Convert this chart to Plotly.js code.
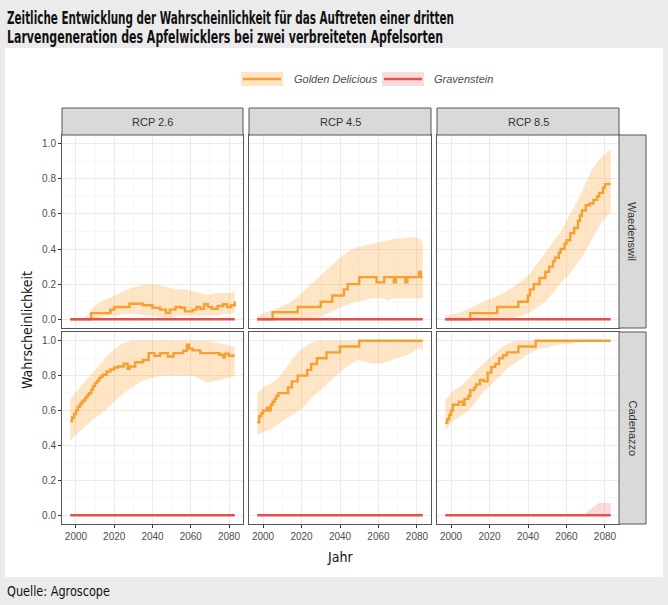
<!DOCTYPE html>
<html><head><meta charset="utf-8">
<script src="https://cdn.plot.ly/plotly-3.0.1.min.js"></script>
<style>html,body{margin:0;padding:0;background:#ebebeb}#chart{width:668px;height:605px}</style>
</head><body><div id="chart"></div>
<script>
// ---------------- DATA ----------------
const panelTitles = ["RCP 2.6", "RCP 4.5", "RCP 8.5"];
const siteNames = ["Waedenswil", "Cadenazzo"];
const seriesNames = ["Golden Delicious", "Gravenstein"];
const xTicks = [2000, 2020, 2040, 2060, 2080];
const yTicks = [0, 0.2, 0.4, 0.6, 0.8, 1.0];

const ribbonYears = [1997,2001,2005,2009,2013,2017,2021,2025,2029,2033,2037,2041,2045,2049,2053,2057,2061,2065,2069,2073,2077,2081,2083];

// Golden Delicious – mean (step breakpoints)
const w26Years = [1997,2008,2018,2020,2028,2035,2040,2044,2047,2049,2052,2055,2057,2061,2063,2065,2067,2069,2071,2074,2077,2079,2081,2083];
const w26Mean  = [0,0.035,0.055,0.07,0.088,0.08,0.065,0.055,0.035,0.055,0.07,0.065,0.045,0.055,0.07,0.06,0.085,0.07,0.06,0.075,0.085,0.07,0.08,0.1];
const w45Years = [1997,2005,2018,2030,2036,2042,2044,2050,2059,2063,2068,2069,2074,2075,2081,2082,2083];
const w45Mean  = [0,0.04,0.07,0.1,0.135,0.17,0.2,0.24,0.21,0.24,0.21,0.24,0.21,0.24,0.27,0.24,0.24];
const w85Years = [1997,2010,2024,2035,2040,2041,2043,2046,2049,2051,2053,2054,2056,2057,2059,2060,2062,2064,2066,2067,2068,2070,2072,2074,2076,2077,2079,2080,2083];
const w85Mean  = [0,0.035,0.07,0.1,0.135,0.17,0.2,0.235,0.27,0.3,0.33,0.35,0.38,0.4,0.43,0.45,0.49,0.52,0.56,0.59,0.62,0.65,0.66,0.68,0.7,0.72,0.75,0.77,0.77];
const c26Years = [1997,1998,1999,2000,2001,2002,2003,2004,2005,2006,2007,2008,2009,2010,2011,2012,2013,2014,2016,2018,2020,2022,2025,2027,2028,2031,2035,2038,2041,2044,2048,2051,2056,2058,2059,2061,2065,2075,2077,2078,2080,2083];
const c26Mean  = [0.54,0.56,0.58,0.6,0.62,0.635,0.65,0.66,0.675,0.69,0.7,0.72,0.74,0.757,0.77,0.785,0.795,0.805,0.824,0.835,0.847,0.852,0.868,0.839,0.852,0.877,0.89,0.929,0.914,0.929,0.91,0.929,0.943,0.977,0.955,0.945,0.929,0.92,0.905,0.925,0.914,0.914];
const c45Years = [1997,1998,1999,2000,2002,2003,2004,2005,2006,2007,2008,2013,2015,2018,2023,2025,2028,2033,2040,2050,2083];
const c45Mean  = [0.533,0.567,0.583,0.6,0.617,0.6,0.633,0.65,0.667,0.683,0.7,0.733,0.767,0.8,0.833,0.867,0.9,0.933,0.967,1.0,1.0];
const c85Years = [1997,1998,1999,2000,2001,2004,2006,2007,2009,2010,2012,2013,2015,2017,2019,2021,2023,2025,2027,2029,2035,2044,2083];
const c85Mean  = [0.53,0.55,0.575,0.6,0.633,0.65,0.633,0.667,0.683,0.717,0.733,0.75,0.775,0.767,0.817,0.85,0.867,0.9,0.917,0.933,0.967,1.0,1.0];

// Golden Delicious – uncertainty band (lower / upper) on ribbonYears
const w26Lo = [0,0,0,0,0.01,0.02,0.02,0.03,0.03,0.03,0.02,0.02,0.01,0.01,0.02,0.02,0.02,0.02,0.02,0.02,0.03,0.03,0.04];
const w26Hi = [0,0,0.01,0.07,0.1,0.12,0.14,0.16,0.18,0.19,0.2,0.2,0.19,0.18,0.17,0.17,0.16,0.15,0.14,0.15,0.15,0.15,0.16];
const w45Lo = [0,0,0,0,0,0,0,0,0.01,0.03,0.05,0.07,0.09,0.1,0.11,0.12,0.12,0.11,0.12,0.12,0.12,0.12,0.12];
const w45Hi = [0.02,0.04,0.05,0.07,0.09,0.12,0.16,0.2,0.24,0.28,0.32,0.36,0.39,0.41,0.42,0.43,0.44,0.45,0.46,0.46,0.47,0.46,0.44];
const w85Lo = [0,0,0,0,0,0,0,0,0,0.01,0.02,0.04,0.07,0.1,0.15,0.21,0.25,0.31,0.37,0.45,0.53,0.59,0.61];
const w85Hi = [0.02,0.03,0.04,0.06,0.08,0.1,0.12,0.14,0.16,0.19,0.22,0.26,0.32,0.38,0.44,0.5,0.58,0.66,0.75,0.85,0.91,0.95,0.97];
const c26Lo = [0.43,0.47,0.51,0.55,0.58,0.62,0.66,0.7,0.73,0.76,0.78,0.79,0.8,0.8,0.8,0.8,0.8,0.78,0.76,0.77,0.78,0.79,0.8];
const c26Hi = [0.66,0.72,0.77,0.82,0.87,0.92,0.96,0.99,1,1,1,1,1,1,1,1,1,1,1,0.99,0.98,0.97,0.97];
const c45Lo = [0.46,0.48,0.5,0.53,0.56,0.59,0.62,0.67,0.71,0.75,0.79,0.83,0.86,0.89,0.88,0.87,0.87,0.88,0.9,0.91,0.93,0.96,0.94];
const c45Hi = [0.7,0.74,0.76,0.8,0.86,0.92,0.96,0.99,1,1,1,1,1,1,1,1,1,1,1,1,1,1,1];
const c85Lo = [0.49,0.54,0.57,0.6,0.65,0.71,0.75,0.79,0.84,0.87,0.9,0.93,0.95,0.96,0.97,0.98,0.98,0.99,1,1,1,1,1];
const c85Hi = [0.66,0.71,0.74,0.78,0.83,0.87,0.91,0.95,0.98,1,1,1,1,1,1,1,1,1,1,1,1,1,1];

// Gravenstein – mean and band
const gravYears = [1997, 2083];
const gravMean  = [0, 0];
const gravLo    = [0,0,0,0,0,0,0,0,0,0,0,0,0,0,0,0,0,0,0,0,0,0,0];
const gravHiZero= [0,0,0,0,0,0,0,0,0,0,0,0,0,0,0,0,0,0,0,0,0,0,0];
const gravHiC85 = [0,0,0,0,0,0,0,0,0,0,0,0,0,0,0,0,0,0,0,0.04,0.07,0.07,0.07];

const panels = [
  {years:w26Years, mean:w26Mean, lo:w26Lo, hi:w26Hi, gHi:gravHiZero},
  {years:w45Years, mean:w45Mean, lo:w45Lo, hi:w45Hi, gHi:gravHiZero},
  {years:w85Years, mean:w85Mean, lo:w85Lo, hi:w85Hi, gHi:gravHiZero},
  {years:c26Years, mean:c26Mean, lo:c26Lo, hi:c26Hi, gHi:gravHiZero},
  {years:c45Years, mean:c45Mean, lo:c45Lo, hi:c45Hi, gHi:gravHiZero},
  {years:c85Years, mean:c85Mean, lo:c85Lo, hi:c85Hi, gHi:gravHiC85}
];

// ---------------- STYLE ----------------
const W = 668, H = 605;
const fx = p => p / W, fy = p => 1 - p / H;
const colX = [[62,243],[249,431],[437,619]];
const rowY = [[135,328],[332,524]];
const ORANGE = '#F5A132', ORANGE_FILL = 'rgba(247,160,40,0.27)';
const RED = '#E0524E', RED_FILL = 'rgba(232,90,90,0.22)';
const FONT = 'Liberation Sans, Arial, sans-serif';
const NARROW = 'DejaVu Sans Condensed, DejaVu Sans, sans-serif';

const traces = [];
const layout = {
  width: W, height: H, margin:{l:0,r:0,t:0,b:0},
  paper_bgcolor:'#ebebeb', plot_bgcolor:'#ffffff', showlegend:false,
  shapes: [], annotations: []
};

panels.forEach((p, i) => {
  const row = i < 3 ? 0 : 1, col = i % 3;
  const n = i === 0 ? '' : String(i + 1);
  const xa = 'x' + n, ya = 'y' + n;
  layout['xaxis' + n] = {
    domain:[fx(colX[col][0]), fx(colX[col][1])], anchor: ya,
    range:[1992.7, 2087.3], tickvals:xTicks, showticklabels: row === 1,
    ticks: row === 1 ? 'outside' : '', ticklen:3, tickcolor:'#333',
    tickfont:{family:FONT, size:10, color:'#4d4d4d'},
    showgrid:true, gridcolor:'#ebebeb', gridwidth:1, zeroline:false,
    minor:{tickvals:[2010,2030,2050,2070], showgrid:true, gridcolor:'#f4f4f4', gridwidth:0.6},
    showline:true, mirror:true, linecolor:'#555', linewidth:1, fixedrange:true
  };
  layout['yaxis' + n] = {
    domain:[fy(rowY[row][1]), fy(rowY[row][0])], anchor: xa,
    range:[-0.05, 1.05], tickvals:yTicks, tickformat:'.1f', showticklabels: col === 0,
    ticks: col === 0 ? 'outside' : '', ticklen:3, tickcolor:'#333',
    tickfont:{family:FONT, size:10, color:'#4d4d4d'},
    showgrid:true, gridcolor:'#ebebeb', gridwidth:1, zeroline:false,
    minor:{tickvals:[0.1,0.3,0.5,0.7,0.9], showgrid:true, gridcolor:'#f4f4f4', gridwidth:0.6},
    showline:true, mirror:true, linecolor:'#555', linewidth:1, fixedrange:true
  };
  const base = {xaxis:xa, yaxis:ya, hoverinfo:'skip', showlegend:false};
  traces.push(Object.assign({type:'scatter', mode:'lines', x:ribbonYears, y:p.lo, line:{width:0, color:ORANGE}}, base));
  traces.push(Object.assign({type:'scatter', mode:'lines', x:ribbonYears, y:p.hi, fill:'tonexty', fillcolor:ORANGE_FILL, line:{width:0, color:ORANGE}}, base));
  traces.push(Object.assign({type:'scatter', mode:'lines', x:ribbonYears, y:gravLo, line:{width:0, color:RED}}, base));
  traces.push(Object.assign({type:'scatter', mode:'lines', x:ribbonYears, y:p.gHi, fill:'tonexty', fillcolor:RED_FILL, line:{width:0, color:RED}}, base));
  traces.push(Object.assign({type:'scatter', mode:'lines', name:seriesNames[0], x:p.years, y:p.mean, line:{color:ORANGE, width:2.4, shape:'hv'}}, base));
  traces.push(Object.assign({type:'scatter', mode:'lines', name:seriesNames[1], x:gravYears, y:gravMean, line:{color:RED, width:2.4}}, base));
});

// white card
layout.shapes.push({type:'rect', xref:'paper', yref:'paper', x0:fx(5), x1:fx(663), y0:fy(577), y1:fy(48), fillcolor:'#ffffff', line:{width:0}, layer:'below'});
// top strips
colX.forEach((c, k) => {
  layout.shapes.push({type:'rect', xref:'paper', yref:'paper', x0:fx(c[0]), x1:fx(c[1]), y0:fy(135), y1:fy(108), fillcolor:'#d9d9d9', line:{color:'#555', width:1}});
  layout.annotations.push({xref:'paper', yref:'paper', x:fx((c[0]+c[1])/2), y:fy(122), text:panelTitles[k], showarrow:false, xanchor:'center', yanchor:'middle', font:{family:FONT, size:11, color:'#333'}});
});
// right strips
rowY.forEach((r, k) => {
  layout.shapes.push({type:'rect', xref:'paper', yref:'paper', x0:fx(619), x1:fx(646), y0:fy(r[1]), y1:fy(r[0]), fillcolor:'#d9d9d9', line:{color:'#555', width:1}});
  layout.annotations.push({xref:'paper', yref:'paper', x:fx(632.5), y:fy((r[0]+r[1])/2), text:siteNames[k], textangle:90, showarrow:false, xanchor:'center', yanchor:'middle', font:{family:FONT, size:11, color:'#333'}});
});
// legend (custom)
const legendKeys = [{x0:241, x1:283, tx:292, fill:ORANGE_FILL, col:ORANGE, label:seriesNames[0]},
                    {x0:382, x1:424, tx:432, fill:RED_FILL, col:RED, label:seriesNames[1]}];
legendKeys.forEach(k => {
  layout.shapes.push({type:'rect', xref:'paper', yref:'paper', x0:fx(k.x0), x1:fx(k.x1), y0:fy(86), y1:fy(72), fillcolor:k.fill, line:{width:0}});
  layout.shapes.push({type:'line', xref:'paper', yref:'paper', x0:fx(k.x0+2), x1:fx(k.x1-2), y0:fy(79), y1:fy(79), line:{color:k.col, width:2.4}});
  layout.annotations.push({xref:'paper', yref:'paper', x:fx(k.tx), y:fy(79), text:'<i>'+k.label+'</i>', showarrow:false, xanchor:'left', yanchor:'middle', font:{family:FONT, size:11, color:'#4d4d4d'}});
});
// titles
const titleLines = ['Zeitliche Entwicklung der Wahrscheinlichkeit für das Auftreten einer dritten',
                    'Larvengeneration des Apfelwicklers bei zwei verbreiteten Apfelsorten'];
const fitWidths = {};
fitWidths[titleLines[0]] = 447;
fitWidths[titleLines[1]] = 436;
fitWidths['Quelle: Agroscope'] = 103;
fitWidths['Wahrscheinlichkeit'] = 118;
layout.annotations.push({xref:'paper', yref:'paper', x:fx(5), y:fy(18), text:'<b>'+titleLines[0]+'</b>', showarrow:false, xanchor:'left', yanchor:'middle', align:'left', font:{family:NARROW, size:17, color:'#111'}});
layout.annotations.push({xref:'paper', yref:'paper', x:fx(5), y:fy(37), text:'<b>'+titleLines[1]+'</b>', showarrow:false, xanchor:'left', yanchor:'middle', align:'left', font:{family:NARROW, size:17, color:'#111'}});
layout.annotations.push({xref:'paper', yref:'paper', x:fx(27), y:fy(330), text:'Wahrscheinlichkeit', textangle:-90, showarrow:false, xanchor:'center', yanchor:'middle', font:{family:NARROW, size:14, color:'#111'}});
layout.annotations.push({xref:'paper', yref:'paper', x:fx(340), y:fy(557), text:'Jahr', showarrow:false, xanchor:'center', yanchor:'middle', font:{family:NARROW, size:14, color:'#111'}});
layout.annotations.push({xref:'paper', yref:'paper', x:fx(5), y:fy(591), text:'Quelle: Agroscope', showarrow:false, xanchor:'left', yanchor:'middle', align:'left', font:{family:NARROW, size:14, color:'#111'}});

Plotly.newPlot('chart', traces, layout, {staticPlot:true, displayModeBar:false}).then(() => {
  document.querySelectorAll('#chart text.annotation-text').forEach(t => {
    const w = fitWidths[t.textContent];
    if (w) {
      t.setAttribute('textLength', w);
      t.setAttribute('lengthAdjust', 'spacingAndGlyphs');
    }
  });
});
</script></body></html>
